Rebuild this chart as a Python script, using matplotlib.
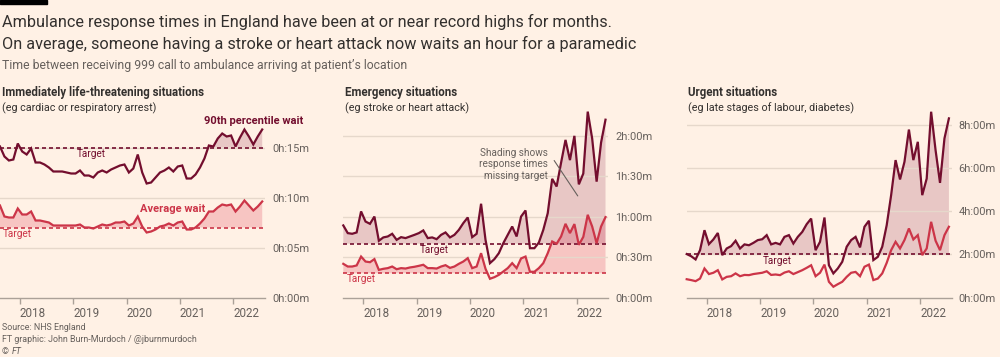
import matplotlib
matplotlib.use("Agg")
import matplotlib.pyplot as plt
import numpy as np
import pandas as pd

# ---------------- data ----------------
months = pd.date_range("2017-08-01", periods=60, freq="MS")

c1_p90 = [15.1, 14.1, 13.7, 13.8, 15.4, 14.6, 14.3, 14.9, 13.5, 13.5,
          13.3, 13.0, 12.6, 12.6, 12.6, 12.5, 12.4, 12.4, 12.7, 12.2,
          12.2, 12.0, 12.5, 12.7, 12.5, 12.8, 13.0, 13.2, 13.3, 12.5,
          12.9, 14.3, 12.5, 11.4, 11.5, 12.0, 12.5, 12.7, 13.0, 12.6,
          13.1, 13.2, 11.9, 11.9, 12.3, 13.0, 13.9, 15.2, 15.1, 15.9,
          16.4, 16.1, 16.2, 15.1, 16.0, 16.8, 16.1, 15.3, 16.1, 16.8]
c1_mean = [9.2, 8.1, 8.0, 8.0, 8.9, 8.3, 8.3, 8.6, 7.7, 7.7,
           7.6, 7.5, 7.2, 7.2, 7.2, 7.2, 7.2, 7.2, 7.3, 7.0,
           7.0, 6.9, 7.1, 7.3, 7.2, 7.3, 7.5, 7.5, 7.6, 7.2,
           7.4, 8.1, 7.1, 6.5, 6.6, 6.8, 7.1, 7.2, 7.4, 7.2,
           7.5, 7.6, 6.8, 6.8, 7.0, 7.4, 7.9, 8.6, 8.6, 9.0,
           9.3, 9.2, 9.3, 8.6, 9.1, 9.7, 9.2, 8.7, 9.1, 9.6]
c2_p90 = [53.5, 47.8, 47.3, 48.3, 63.9, 56.4, 54.7, 60.1, 42.1, 44.6,
          45.3, 47.3, 42.8, 44.8, 44.1, 45.3, 46.5, 47.8, 49.8, 44.1,
          44.6, 43.3, 46.5, 48.3, 44.6, 46.5, 50.2, 55.2, 59.4, 44.8,
          47.3, 69.6, 42.8, 25.5, 28.5, 32.9, 40.3, 46.5, 52.7, 45.3,
          60.1, 64.6, 36.6, 36.6, 40.8, 50.2, 62.6, 88.1, 82.4, 100.0,
          117.0, 102.0, 120.0, 84.0, 92.0, 138.0, 118.0, 86.0, 115.0, 132.0]
c2_mean = [25.0, 23.0, 23.0, 23.8, 30.4, 26.7, 26.2, 28.5, 20.5, 21.3,
           21.8, 23.0, 21.0, 21.8, 21.5, 22.3, 22.8, 23.5, 24.3, 21.8,
           21.8, 21.5, 23.0, 24.0, 22.0, 23.0, 25.0, 26.7, 29.2, 21.8,
           23.0, 32.9, 21.3, 13.9, 15.1, 16.8, 19.3, 21.8, 25.5, 21.8,
           29.0, 30.4, 19.1, 19.1, 21.8, 25.5, 32.9, 41.6, 39.9, 45.3,
           54.7, 47.8, 54.5, 39.1, 45.0, 61.4, 52.7, 40.3, 52.7, 59.7]
c3_p90 = [2.02, 1.92, 1.77, 2.2, 3.13, 2.48, 2.7, 3.0, 1.97, 2.28,
          2.39, 2.64, 2.28, 2.47, 2.43, 2.54, 2.67, 2.71, 2.9, 2.47,
          2.54, 2.47, 2.82, 2.9, 2.51, 2.82, 3.05, 3.41, 3.67, 2.2,
          2.59, 3.72, 1.5, 1.12, 1.35, 1.66, 2.36, 2.67, 2.82, 2.33,
          3.29, 3.57, 1.74, 1.89, 2.36, 3.36, 4.76, 6.39, 5.49, 6.31,
          7.81, 6.39, 7.24, 4.76, 5.53, 8.64, 6.85, 5.33, 7.4, 8.33]
c3_mean = [0.85, 0.81, 0.76, 0.88, 1.35, 1.09, 1.15, 1.27, 0.84, 0.96,
           0.99, 1.12, 0.99, 1.05, 1.04, 1.09, 1.12, 1.15, 1.22, 1.05,
           1.07, 1.04, 1.16, 1.22, 1.09, 1.18, 1.27, 1.38, 1.5, 0.99,
           1.15, 1.53, 0.73, 0.5, 0.62, 0.73, 0.96, 1.15, 1.19, 0.99,
           1.43, 1.53, 0.81, 0.88, 1.12, 1.61, 2.2, 2.59, 2.28, 2.67,
           3.21, 2.7, 2.9, 1.97, 2.28, 3.52, 2.64, 2.2, 2.9, 3.29]

targets_p90 = [15, 40, 2]          # minutes, minutes, hours
targets_mean = [7, 18, None]

years = [2018, 2019, 2020, 2021, 2022]
year_labels = ["2018", "2019", "2020", "2021", "2022"]

yticks = [[0, 5, 10, 15], [0, 30, 60, 90, 120], [0, 2, 4, 6, 8]]
ytick_labels = [["0h:00m", "0h:05m", "0h:10m", "0h:15m"],
                ["0h:00m", "0h:30m", "1h:00m", "1h:30m", "2h:00m"],
                ["0h:00m", "2h:00m", "4h:00m", "6h:00m", "8h:00m"]]

panel_titles = ["Immediately life-threatening situations", "Emergency situations",
                "Urgent situations"]
panel_subs = ["(eg cardiac or respiratory arrest)", "(eg stroke or heart attack)",
              "(eg late stages of labour, diabetes)"]

# ---------------- style ----------------
BG = "#FFF1E5"
DARK = "#730E2E"
RED = "#CC3548"
FILL_DARK = "#8E1F45"
FILL_RED = "#E0455A"
TXT = "#33302E"
GREY = "#66605C"
GRID = "#E6D8CB"
AXIS = "#ABA198"

plt.rcParams["font.family"] = ["Roboto", "DejaVu Sans"]

W, H = 1000, 357
fig = plt.figure(figsize=(W / 100, H / 100), dpi=100, facecolor=BG)
renderer = fig.canvas.get_renderer()


def fit(s, px, **kw):
    t = fig.text(0, 0, s, fontsize=10, **kw)
    w = t.get_window_extent(renderer=renderer).width
    t.remove()
    return 10 * px / w


def ftext(x, y, s, size, **kw):
    kw.setdefault("va", "baseline")
    return fig.text(x / W, 1 - y / H, s, fontsize=size, **kw)


# sizes fitted to reference widths
fs_title = fit("Ambulance response times in England have been at or near record highs for months.", 613)
fs_sub = fit("Time between receiving 999 call to ambulance arriving at patient’s location", 408)
fs_ptitle = fit(panel_titles[0], 203, weight="bold")
fs_psub = fit(panel_subs[0], 155)
fs_tick = fit("0h:00m", 36.7)
fs_year = fit("2018", 26)
fs_ann = fit("90th percentile wait", 99, weight="bold")
fs_tgt = fit("Target", 29)
fs_shade = fit("response times", 69)
fs_foot = fit("FT graphic: John Burn-Murdoch / @jburnmurdoch", 195)

# header
fig.patches.append(plt.Rectangle((0, 1 - 3.5 / H), 47 / W, 3.5 / H, transform=fig.transFigure,
                                 color="black", zorder=5))
ftext(2, 26.5, "Ambulance response times in England have been at or near record highs for months.",
      fs_title, color=TXT)
ftext(2, 48.5, "On average, someone having a stroke or heart attack now waits an hour for a paramedic",
      fs_title, color=TXT)
ftext(2, 69.5, "Time between receiving 999 call to ambulance arriving at patient’s location",
      fs_sub, color=GREY)

# footer
ftext(2, 330, "Source: NHS England", fs_foot, color=GREY)
ftext(2, 342.5, "FT graphic: John Burn-Murdoch / @jburnmurdoch", fs_foot, color=GREY)
ftext(2, 354.5, "©", fs_foot, color=GREY)
ftext(12, 354.5, "FT", fs_foot, color=GREY, style="italic")

# axes
x = months.year + (months.month - 0.5) / 12.0
lefts = [0, 343.3, 686.7]
ax_w = 265
bottom_px, top_px = 297.5, 110
ylims = [(0, 18.75), (0, 139.2), (0, 8.72)]
p90s = [c1_p90, c2_p90, c3_p90]
means = [c1_mean, c2_mean, c3_mean]

axes = []
for k in range(3):
    ax = fig.add_axes([lefts[k] / W, 1 - bottom_px / H, ax_w / W, (bottom_px - top_px) / H])
    ax.set_facecolor("none")
    ax.set_xlim(2017.625, 2022.594)
    ax.set_ylim(*ylims[k])
    for sp in ["top", "left", "right"]:
        ax.spines[sp].set_visible(False)
    ax.spines["bottom"].set_color(AXIS)
    ax.spines["bottom"].set_linewidth(1)
    ax.spines["bottom"].set_zorder(4)

    # gridlines
    for v in yticks[k][1:]:
        ax.axhline(v, color=GRID, lw=1, zorder=1.5)

    ax.yaxis.tick_right()
    ax.set_yticks(yticks[k])
    ax.set_yticklabels(ytick_labels[k])
    ax.tick_params(axis="y", length=0, pad=5, labelsize=fs_tick, labelcolor=GREY)

    ax.set_xticks(years)
    ax.set_xticklabels(year_labels)
    ax.tick_params(axis="x", direction="out", length=4, width=1, color=AXIS,
                   labelsize=fs_year, labelcolor=GREY, pad=2.5)
    for lab in ax.get_xticklabels():
        lab.set_horizontalalignment("left")

    p90 = np.array(p90s[k])
    mn = np.array(means[k])
    tp = targets_p90[k]
    tm = targets_mean[k]

    if tm is not None:
        ax.fill_between(x, tm, mn, where=mn > tm, interpolate=True, color=FILL_RED,
                        alpha=0.25, lw=0, zorder=1)
    ax.fill_between(x, tp, p90, where=p90 > tp, interpolate=True, color=FILL_DARK,
                    alpha=0.2, lw=0, zorder=1)

    ax.axhline(tp, color=DARK, lw=1.2, ls=(0, (2.4, 1.8)), zorder=2)
    if tm is not None:
        ax.axhline(tm, color=RED, lw=1.2, ls=(0, (2.4, 1.8)), zorder=2)

    ax.plot(x, mn, color=RED, lw=1.6, zorder=3, solid_joinstyle="miter", clip_on=False)
    ax.plot(x, p90, color=DARK, lw=1.6, zorder=3, solid_joinstyle="miter", clip_on=False)

    ftext(lefts[k] + 1.5, 96, panel_titles[k], fs_ptitle, color=TXT, weight="bold")
    ftext(lefts[k] + 1.5, 111, panel_subs[k], fs_psub, color=TXT)
    axes.append(ax)

ax1, ax2, ax3 = axes

# annotations panel 1
ax1.text(2023.31, 17.32, "90th percentile wait", fontsize=fs_ann, weight="bold",
         color=DARK, ha="right", va="baseline")
ax1.text(2019.33, 14.02, "Target", fontsize=fs_tgt, color=DARK, ha="center", va="baseline")
ax1.text(2020.87, 8.52, "Average wait", fontsize=fs_ann, weight="bold", color=RED,
         ha="center", va="baseline")
ax1.text(2017.68, 6.02, "Target", fontsize=fs_tgt, color=RED, ha="left", va="baseline")

# annotations panel 2
ax2.text(2019.33, 33.4, "Target", fontsize=fs_tgt, color=DARK, ha="center", va="baseline")
ax2.text(2017.69, 11.6, "Target", fontsize=fs_tgt, color=RED, ha="left", va="baseline")
for line, yv in zip(["Shading shows", "response times", "missing target"], [105.2, 96.8, 87.9]):
    ax2.text(2021.46, yv, line, fontsize=fs_shade, color=GREY, ha="right", va="baseline")
ax2.annotate("", xy=(2022.05, 73.7), xytext=(2021.55, 103.4),
             arrowprops=dict(arrowstyle="-", color=GREY, lw=0.8))

# annotations panel 3
ax3.text(2019.33, 1.55, "Target", fontsize=fs_tgt, color=DARK, ha="center", va="baseline")

fig.savefig("out.png", dpi=100, facecolor=BG)
